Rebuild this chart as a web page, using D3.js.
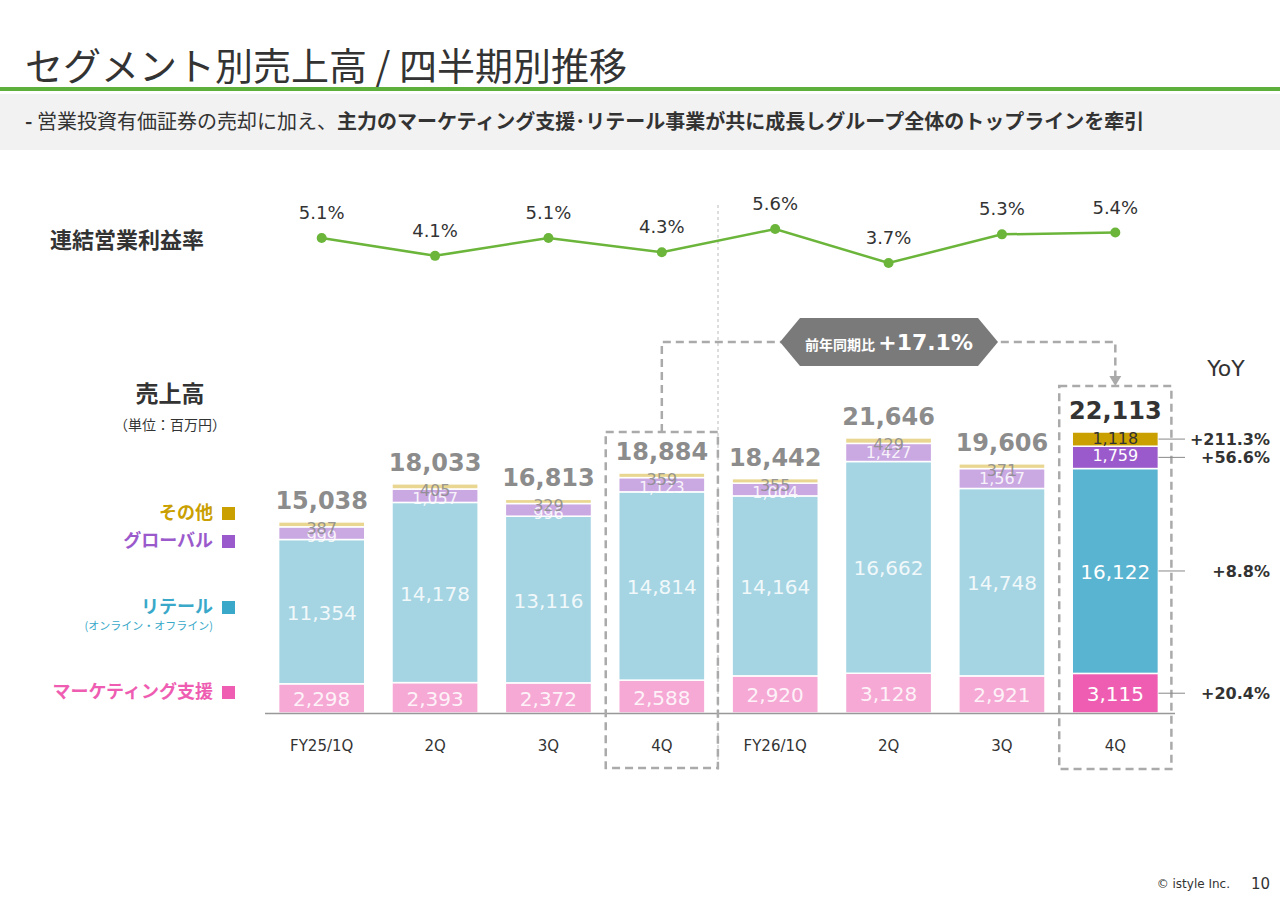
<!DOCTYPE html>
<html><head><meta charset="utf-8">
<script src="https://cdn.jsdelivr.net/npm/d3@7"></script>
<style>body{margin:0;background:#fff}svg{font-family:Verdana,"DejaVu Sans","Noto Sans CJK JP",sans-serif}</style>
</head><body>
<svg id="chart" width="1280" height="904"></svg>
<script>
// data
var quarters = ["FY25/1Q","2Q","3Q","4Q","FY26/1Q","2Q","3Q","4Q"];
var marketing = [2298,2393,2372,2588,2920,3128,2921,3115];
var retail = [11354,14178,13116,14814,14164,16662,14748,16122];
var global = [999,1057,996,1123,1004,1427,1567,1759];
var other = [387,405,329,359,355,429,371,1118];
var totals = [15038,18033,16813,18884,18442,21646,19606,22113];
var margins = [5.1,4.1,5.1,4.3,5.6,3.7,5.3,5.4];
var yoy = ["+20.4%","+8.8%","+56.6%","+211.3%"];

var keys = ["marketing","retail","global","other"];
var fade = {marketing:"#f6a9d5",retail:"#a5d5e3",global:"#caa8e2",other:"#e9d690"};
var strong = {marketing:"#ee5db1",retail:"#58b4d0",global:"#9b5acb",other:"#caa000"};

var rows = quarters.map(function(q,i){
  return {i:i,q:q,marketing:marketing[i],retail:retail[i],global:global[i],other:other[i]};
});

var svg = d3.select("#chart");
var jp = '"Noto Sans CJK JP",sans-serif';

// header
svg.append("text").attr("x",25).attr("y",80).attr("font-family",jp).attr("font-size",38).attr("fill","#333")
  .text("セグメント別売上高 / 四半期別推移");
svg.append("rect").attr("x",0).attr("y",87).attr("width",1280).attr("height",4).attr("fill","#5db03c");
svg.append("rect").attr("x",0).attr("y",94).attr("width",1280).attr("height",56).attr("fill","#f2f2f2");
var sub = svg.append("text").attr("x",25).attr("y",129).attr("font-family",jp).attr("font-size",20).attr("fill","#333");
sub.append("tspan").attr("font-weight","bold").text("-  ");
sub.append("tspan").text("営業投資有価証券の売却に加え、");
sub.append("tspan").attr("font-weight","bold").text("主力のマーケティング支援･リテール事業が共に成長しグループ全体のトップラインを牽引");

var x = d3.scaleBand().domain(d3.range(8)).range([265,1172]).paddingInner(0.24).paddingOuter(0.12);
var y = d3.scaleLinear().domain([0,22113]).range([713,432]);
var ym = d3.scaleLinear().domain([3.7,5.6]).range([263,229]);
var cx = function(i){return x(i)+x.bandwidth()/2;};

// dashed divider
svg.append("line").attr("x1",718).attr("x2",718).attr("y1",205).attr("y2",770)
  .attr("stroke","#bbb").attr("stroke-dasharray","3,3");

// margin line
svg.append("text").attr("x",50).attr("y",248).attr("font-family",jp).attr("font-size",22).attr("font-weight","bold").attr("fill","#333").text("連結営業利益率");
svg.append("path").datum(margins).attr("fill","none").attr("stroke","#6bb53b").attr("stroke-width",2.5)
  .attr("d",d3.line().x(function(d,i){return cx(i);}).y(function(d){return ym(d);}));
svg.selectAll(".mdot").data(margins).join("circle").attr("cx",function(d,i){return cx(i);}).attr("cy",ym)
  .attr("r",5).attr("fill","#6bb53b");
svg.selectAll(".mlbl").data(margins).join("text").attr("x",function(d,i){return cx(i);})
  .attr("y",function(d){return ym(d)-19;})
  .attr("text-anchor","middle").attr("font-size",18).attr("fill","#333").text(function(d){return d.toFixed(1)+"%";});

// stacks
var stack = d3.stack().keys(keys)(rows);
stack.forEach(function(layer){
  var k = layer.key;
  svg.selectAll(".b"+k).data(layer).join("rect")
    .attr("x",function(d,i){return x(i);}).attr("width",x.bandwidth())
    .attr("y",function(d){return y(d[1]);}).attr("height",function(d){return y(d[0])-y(d[1]);})
    .attr("fill",function(d,i){return i==7?strong[k]:fade[k];})
    .attr("stroke","#fff").attr("stroke-width",1.5);
  svg.selectAll(".l"+k).data(layer).join("text")
    .attr("x",function(d,i){return cx(i);})
    .attr("y",function(d){
      if(k=="other") return y(d[1])+12;
      if(k=="global") return y(d[1])+15;
      return (y(d[0])+y(d[1]))/2+8;})
    .attr("text-anchor","middle")
    .attr("font-size",(k=="other"||k=="global")?16:20)
    .attr("fill",function(d,i){
      if(i==7) return k=="other"?"#333":"#fff";
      return k=="other"?"#8a8a8a":"#fff";})
    .attr("opacity",function(d,i){return i==7?1:0.85;})
    .text(function(d){return d3.format(",")(d.data[k]);});
});
svg.selectAll(".tot").data(totals).join("text").attr("x",function(d,i){return cx(i);})
  .attr("y",function(d,i){return y(d)-13;}).attr("text-anchor","middle").attr("font-size",24).attr("font-weight","bold")
  .attr("fill",function(d,i){return i==7?"#333":"#8c8c8c";}).text(d3.format(","));

// baseline + axis
svg.append("line").attr("x1",265).attr("x2",1175).attr("y1",713.5).attr("y2",713.5).attr("stroke","#999").attr("stroke-width",1.5);
svg.selectAll(".ql").data(quarters).join("text").attr("x",function(d,i){return cx(i);}).attr("y",751)
  .attr("text-anchor","middle").attr("font-size",15).attr("fill","#333").text(function(d){return d;});

// dashed boxes
[3,7].forEach(function(i){
  svg.append("rect").attr("x",x(i)-13).attr("y",i==3?432:386).attr("width",x.bandwidth()+26).attr("height",i==3?336:383)
    .attr("fill","none").attr("stroke","#aaa").attr("stroke-width",2.5).attr("stroke-dasharray","8,5");
});
svg.append("path").attr("d","M"+cx(3)+",432V342H"+cx(7)+"V378").attr("fill","none").attr("stroke","#aaa")
  .attr("stroke-width",2.5).attr("stroke-dasharray","8,5");
svg.append("path").attr("d","M"+(cx(7)-6)+",376L"+(cx(7)+6)+",376L"+cx(7)+",386Z").attr("fill","#aaa");
svg.append("path").attr("d","M780,342L800,318H978L998,342L978,366H800Z").attr("fill","#7a7a7a");
var bd = svg.append("text").attr("x",889).attr("y",350).attr("text-anchor","middle").attr("fill","#fff");
bd.append("tspan").attr("font-family",jp).attr("font-size",14).attr("font-weight","bold").text("前年同期比 ");
bd.append("tspan").attr("font-size",22).attr("font-weight","bold").text("+17.1%");

// YoY
svg.append("text").attr("x",1226).attr("y",376).attr("text-anchor","middle").attr("font-size",22).attr("fill","#333").text("YoY");
var last = rows[7];
var yoyY = [y(last.marketing/2), y(last.marketing+last.retail/2), y(last.marketing+last.retail+last.global/2), y(last.marketing+last.retail+last.global+last.other/2)];
yoyY.forEach(function(yy,j){
  svg.append("line").attr("x1",x(7)+x.bandwidth()).attr("x2",1185).attr("y1",yy).attr("y2",yy).attr("stroke","#888");
  svg.append("text").attr("x",1270).attr("y",yy+6).attr("text-anchor","end").attr("font-size",16).attr("font-weight","bold").attr("fill","#333").text(yoy[j]);
});

// legend
svg.append("text").attr("x",170).attr("y",402).attr("text-anchor","middle").attr("font-family",jp).attr("font-size",23).attr("font-weight","bold").attr("fill","#333").text("売上高");
svg.append("text").attr("x",170).attr("y",430).attr("text-anchor","middle").attr("font-family",jp).attr("font-size",14).attr("fill","#333").text("（単位：百万円）");
var leg = [["その他","#caa000",513],["グローバル","#9b5acb",541],["リテール","#3aa9c9",607],["マーケティング支援","#ee5db1",692]];
leg.forEach(function(l){
  svg.append("text").attr("x",213).attr("y",l[2]+6).attr("text-anchor","end").attr("font-family",jp).attr("font-size",18).attr("font-weight","bold").attr("fill",l[1]).text(l[0]);
  svg.append("rect").attr("x",222).attr("y",l[2]-6).attr("width",13).attr("height",13).attr("fill",l[1]);
});
svg.append("text").attr("x",213).attr("y",630).attr("text-anchor","end").attr("font-family",jp).attr("font-size",11).attr("fill","#3aa9c9").text("(オンライン・オフライン)");

// footer
svg.append("text").attr("x",1230).attr("y",888).attr("text-anchor","end").attr("font-size",12).attr("fill","#333").text("© istyle Inc.");
svg.append("text").attr("x",1270).attr("y",889).attr("text-anchor","end").attr("font-size",15).attr("fill","#333").text("10");
</script>
</body></html>
